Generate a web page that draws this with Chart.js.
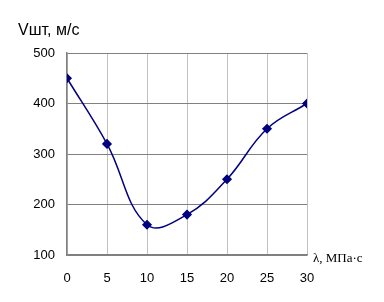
<!DOCTYPE html>
<html>
<head>
<meta charset="utf-8">
<script src="https://cdn.jsdelivr.net/npm/chart.js@4"></script>
<style>
  body { margin: 0; background: #fff; }
  #wrap { position: relative; width: 384px; height: 302px; }
  #yTitle { position: absolute; left: 18px; top: 21px; font: 16px "Liberation Sans", Arial, sans-serif; color: #000; }
  #xTitle { position: absolute; left: 313px; top: 250px; font: 13px "Liberation Serif", "Times New Roman", serif; color: #000; }
</style>
</head>
<body>
<div id="wrap">
  <canvas id="chart" width="384" height="302"></canvas>
  <div id="yTitle">Vшт, м/с</div>
  <div id="xTitle">λ, МПа·с</div>
</div>
<script>
// lambda (МПа·с) and speed values
const lambdaVals = [0, 5, 10, 15, 20, 25, 30];
const speedVals = [450, 320, 160, 180, 250, 350, 400];

const xTicks = [0, 5, 10, 15, 20, 25, 30];
const yTicks = [100, 200, 300, 400, 500];

const points = lambdaVals.map((x, i) => ({ x: x, y: speedVals[i] }));

const ctx = document.getElementById('chart').getContext('2d');
new Chart(ctx, {
    type: 'line',
    data: {
        datasets: [{
            data: points,
            borderColor: '#000080',
            backgroundColor: '#000080',
            borderWidth: 1.5,
            tension: 0.4,
            pointStyle: 'rectRot',
            pointRadius: 4,
            pointHoverRadius: 4
        }]
    },
    options: {
        responsive: false,
        animation: false,
        layout: { padding: { left: 0, top: 53, right: 77, bottom: 17 } },
        plugins: { legend: { display: false }, tooltip: { enabled: false } },
        scales: {
            x: {
                type: 'linear',
                min: 0,
                max: 30,
                afterBuildTicks: s => { s.ticks = xTicks.map(v => ({ value: v })); },
                afterFit: s => { s.height = 30; },
                grid: { color: '#c0c0c0', drawTicks: false, lineWidth: 1 },
                border: { color: '#808080', width: 1.5 },
                ticks: { padding: 16, color: '#000', font: { family: 'Liberation Sans', size: 13 } }
            },
            y: {
                min: 100,
                max: 500,
                afterBuildTicks: s => { s.ticks = yTicks.map(v => ({ value: v })); },
                afterFit: s => { s.width = 67; },
                grid: { color: '#808080', drawTicks: false, lineWidth: 1 },
                border: { color: '#808080', width: 1.5 },
                ticks: { padding: 12, color: '#000', font: { family: 'Liberation Sans', size: 13 } }
            }
        }
    }
});
</script>
</body>
</html>
